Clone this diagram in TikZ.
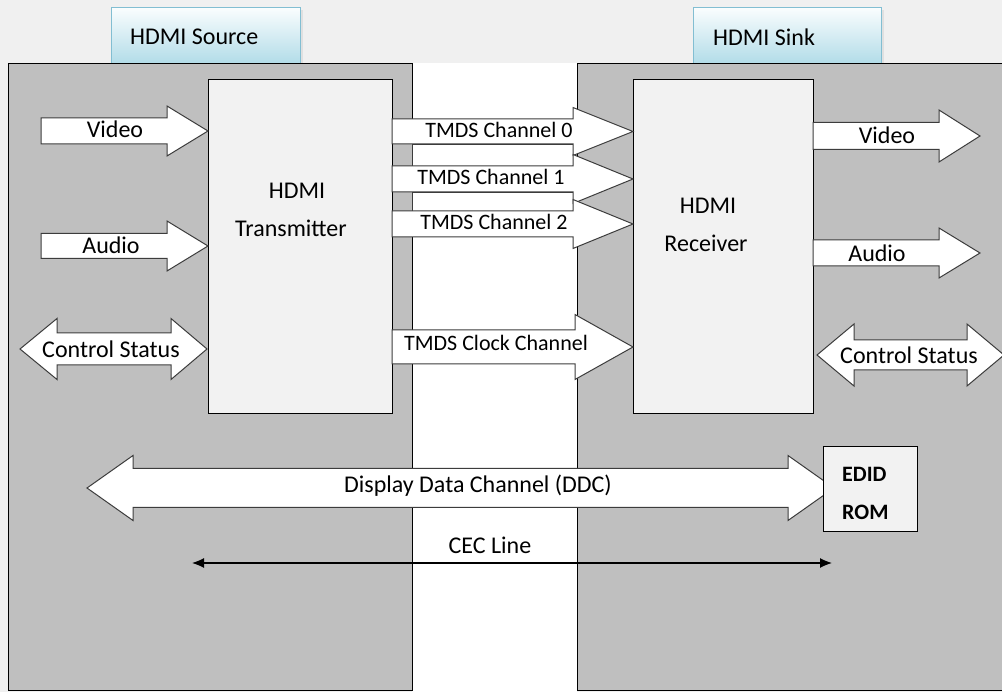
\documentclass[tikz,border=0pt]{standalone}
\usepackage{fontspec}
\setmainfont{Carlito}
\usetikzlibrary{arrows.meta}
\definecolor{pagebg}{RGB}{240,240,240}
\definecolor{boxgray}{RGB}{191,191,191}
\definecolor{innerfill}{RGB}{242,242,242}
\definecolor{edgegray}{RGB}{60,60,60}
\definecolor{labtop}{RGB}{250,253,254}
\definecolor{labbot}{RGB}{178,220,232}
\definecolor{labedge}{RGB}{130,190,210}
\tikzset{
  outerbox/.style={draw=black, line width=1.2pt, fill=boxgray},
  innerbox/.style={draw=black, line width=1.2pt, fill=innerfill, inner sep=0pt},
  blockarrow/.style={draw=edgegray, line width=1pt, fill=white, line join=miter},
  stripbox/.style={draw=edgegray, line width=0.8pt, fill=white},
  lab/.style={font=\fontsize{24}{26}\selectfont, inner sep=0pt},
  tmds/.style={font=\fontsize{22}{24}\selectfont, inner sep=0pt},
  boldlab/.style={font=\bfseries\fontsize{22}{24}\selectfont, inner sep=0pt},
  titlebox/.style={draw=labedge, line width=1pt, top color=labtop, bottom color=labbot, inner sep=0pt},
  cecline/.style={line width=1.2pt, {Latex[length=12pt,width=10pt]}-{Latex[length=12pt,width=10pt]}},
}
% right block arrow: x-start, head-base x, tip x, center y, shaft half, head half
\newcommand{\RArrow}[6]{%
  \draw[blockarrow] (#1,#4-#5) -- (#2,#4-#5) -- (#2,#4-#6) -- (#3,#4) -- (#2,#4+#6) -- (#2,#4+#5) -- (#1,#4+#5) -- cycle;}
% double block arrow: left tip, left base, right base, right tip, center y, shaft half, head half
\newcommand{\DArrow}[7]{%
  \draw[blockarrow] (#1,#5) -- (#2,#5-#7) -- (#2,#5-#6) -- (#3,#5-#6) -- (#3,#5-#7) -- (#4,#5) -- (#3,#5+#7) -- (#3,#5+#6) -- (#2,#5+#6) -- (#2,#5+#7) -- cycle;}
\begin{document}
\begin{tikzpicture}[x=1pt,y=-1pt]
\useasboundingbox (0,0) rectangle (1002,692);
\clip (0,0) rectangle (1002,692);
\fill[pagebg] (0,0) rectangle (1002,692);
\fill[white] (412,63) rectangle (577,692);

% title shadows and boxes
\fill[black!12] (114,10) rectangle (303,66);
\fill[black!12] (696,10) rectangle (884,66);
\node[titlebox, minimum width=189, minimum height=56, anchor=north west] (srcTitle) at (111,7) {};
\node[titlebox, minimum width=188, minimum height=56, anchor=north west] (snkTitle) at (693,7) {};

% outer boxes
\node[outerbox, minimum width=404, minimum height=627, anchor=north west, inner sep=0pt] (source) at (8,63) {};
\node[outerbox, minimum width=440, minimum height=627, anchor=north west, inner sep=0pt] (sink) at (577,63) {};

\node[lab, anchor=west] (srcTitleText) at (130,37) {HDMI Source};
\node[lab, anchor=west] (snkTitleText) at (713,37) {HDMI Sink};

% transmitter / receiver
\node[innerbox, minimum width=184, minimum height=334, anchor=north west] (tx) at (208,79) {};
\node[innerbox, minimum width=180, minimum height=334, anchor=north west] (rx) at (633,79) {};

% source side arrows
\RArrow{41}{167}{208}{131}{13}{25}
\RArrow{41}{167}{208}{246}{12.5}{25}
\DArrow{20}{57}{171}{207}{349}{16}{30.5}

% sink side arrows
\RArrow{813}{939}{980}{136}{13.5}{26}
\RArrow{813}{939}{980}{253}{13}{25}
\DArrow{817}{854}{967}{1004}{355}{15}{31}

% TMDS channels
\draw[stripbox] (412,144) rectangle (573,166);
\draw[stripbox] (412,192) rectangle (573,211);
\RArrow{392}{573}{633}{131.5}{12.5}{24}
\RArrow{392}{573}{633}{179}{13}{24.5}
\RArrow{392}{573}{633}{224}{13}{24.5}
\RArrow{392}{575}{633}{347}{17}{32.5}

% DDC
\DArrow{87}{133}{788}{834}{488}{19.5}{32.5}
\node[innerbox, line width=1pt, minimum width=94, minimum height=85, anchor=north west] (edid) at (823,446) {};

% texts
\node[lab] (txL1) at (297,191) {HDMI};
\node[lab] (txL2) at (291,228) {Transmitter};
\node[lab] (rxL1) at (708,206) {HDMI};
\node[lab] (rxL2) at (706,243) {Receiver};
\node[lab] (vidIn) at (115,129) {Video};
\node[lab] (audIn) at (111,245) {Audio};
\node[lab] (ctlIn) at (111,349) {Control Status};
\node[lab] (vidOut) at (887,135) {Video};
\node[lab] (audOut) at (877,253) {Audio};
\node[lab] (ctlOut) at (909,355) {Control Status};
\node[tmds] (ch0) at (499,130) {TMDS Channel 0};
\node[tmds] (ch1) at (491,177) {TMDS Channel 1};
\node[tmds] (ch2) at (494,222) {TMDS Channel 2};
\node[tmds] (clk) at (496,343) {TMDS Clock Channel};
\node[lab] (ddc) at (478,486) {Display Data Channel (DDC)};
\node[boldlab, anchor=west] (edid1) at (842,474) {EDID};
\node[boldlab, anchor=west] (edid2) at (842,512) {ROM};

% CEC line
\coordinate (cecL) at (192,563);
\coordinate (cecR) at (832,563);
\draw[cecline] (cecL) -- (cecR);
\node[lab] (cec) at (490,545) {CEC Line};
\end{tikzpicture}
\end{document}
